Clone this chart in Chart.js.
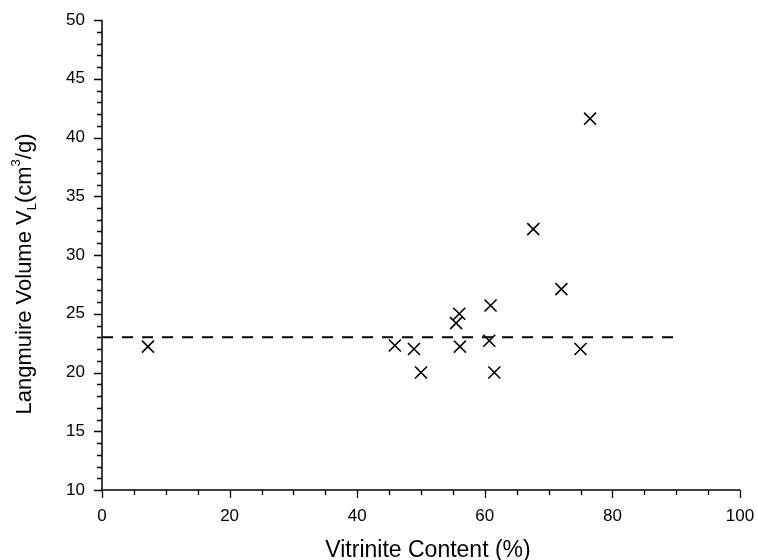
<!DOCTYPE html>
<html>
<head>
<meta charset="utf-8">
<script src="https://cdn.jsdelivr.net/npm/chart.js@4.4.0/dist/chart.umd.min.js"></script>
<style>
html,body{margin:0;padding:0;background:#fff;}
#wrap{width:758px;height:560px;position:relative;}
</style>
</head>
<body>
<div id="wrap"><canvas id="c" width="758" height="560"></canvas></div>
<script>
// Data
const vitrinite = [7.2, 45.9, 48.9, 50.0, 55.5, 56.0, 56.1, 60.9, 60.7, 61.5, 67.6, 72.0, 75.0, 76.5];
const langmuirVolume = [22.2, 22.3, 22.0, 20.0, 24.2, 25.0, 22.2, 25.7, 22.7, 20.0, 32.2, 27.1, 22.0, 41.6];
const refLineX = [0, 90];
const refLineY = [23, 23];
const xTicks = [0, 20, 40, 60, 80, 100];
const yTicks = [10, 15, 20, 25, 30, 35, 40, 45, 50];
const xTitle = 'Vitrinite Content (%)';
const yTitleParts = ['Langmuire Volume V', 'L', '(cm', '3', '/g)'];

const FONT = '"Liberation Sans", Arial, sans-serif';

const axesPlugin = {
  id: 'axesPlugin',
  afterDraw(chart) {
    const ctx = chart.ctx;
    const xs = chart.scales.x, ys = chart.scales.y;
    const L = xs.getPixelForValue(0), R = xs.getPixelForValue(100);
    const T = ys.getPixelForValue(50), B = ys.getPixelForValue(10);
    ctx.save();
    ctx.strokeStyle = '#000';
    ctx.lineWidth = 1.5;
    ctx.beginPath();
    ctx.moveTo(L, T); ctx.lineTo(L, B); ctx.lineTo(R, B);
    ctx.stroke();
    ctx.lineWidth = 1.3;
    ctx.beginPath();
    for (let v = 0; v <= 100; v += 5) {
      const p = Math.round(xs.getPixelForValue(v)) + 0.5;
      const len = (v % 20 === 0) ? 8 : 5;
      ctx.moveTo(p, B); ctx.lineTo(p, B + len);
    }
    for (let v = 10; v <= 50; v += 1) {
      const p = Math.round(ys.getPixelForValue(v)) + 0.5;
      const len = (v % 5 === 0) ? 8 : 5;
      ctx.moveTo(L, p); ctx.lineTo(L - len, p);
    }
    ctx.stroke();

    // x title
    ctx.fillStyle = '#000';
    ctx.font = '23px ' + FONT;
    ctx.textAlign = 'center';
    ctx.textBaseline = 'alphabetic';
    ctx.fillText(xTitle, (L + R) / 2 + 7, 557);

    // y title with sub/superscript
    const parts = [
      {t: yTitleParts[0], s: 22, dy: 0},
      {t: yTitleParts[1], s: 13, dy: 5},
      {t: yTitleParts[2], s: 22, dy: 0},
      {t: yTitleParts[3], s: 13, dy: -11},
      {t: yTitleParts[4], s: 22, dy: 0}
    ];
    let total = 0;
    parts.forEach(p => { ctx.font = p.s + 'px ' + FONT; p.w = ctx.measureText(p.t).width; total += p.w; });
    ctx.translate(31, 274);
    ctx.rotate(-Math.PI / 2);
    ctx.textAlign = 'left';
    let x = -total / 2;
    parts.forEach(p => {
      ctx.font = p.s + 'px ' + FONT;
      ctx.fillText(p.t, x, p.dy);
      x += p.w;
    });
    ctx.restore();
  }
};

new Chart(document.getElementById('c'), {
  type: 'scatter',
  data: {
    datasets: [
      {
        data: vitrinite.map((v, i) => ({x: v, y: langmuirVolume[i]})),
        pointStyle: 'crossRot',
        pointRadius: 8.5,
        pointBorderColor: '#000',
        pointBorderWidth: 1.6,
        pointBackgroundColor: '#000',
        showLine: false
      },
      {
        data: refLineX.map((v, i) => ({x: v, y: refLineY[i]})),
        showLine: true,
        borderColor: '#000',
        borderWidth: 2,
        borderDash: [11, 9],
        pointRadius: 0
      }
    ]
  },
  options: {
    responsive: false,
    animation: false,
    events: [],
    layout: {padding: {left: 0, right: 18, top: 20, bottom: 0}},
    plugins: {legend: {display: false}, tooltip: {enabled: false}},
    scales: {
      x: {
        type: 'linear', min: 0, max: 100,
        afterFit(s) { s.height = 70; s.paddingRight = 0; s.paddingLeft = 0; },
        afterBuildTicks(s) { s.ticks = xTicks.map(v => ({value: v})); },
        grid: {display: true, drawOnChartArea: false, drawTicks: true, tickLength: 6, color: 'rgba(0,0,0,0)'},
        border: {display: false},
        ticks: {color: '#000', font: {family: FONT, size: 17}, padding: 10, maxRotation: 0}
      },
      y: {
        type: 'linear', min: 10, max: 50,
        afterFit(s) { s.width = 102; s.paddingTop = 0; s.paddingBottom = 0; },
        afterBuildTicks(s) { s.ticks = yTicks.map(v => ({value: v})); },
        grid: {display: true, drawOnChartArea: false, drawTicks: true, tickLength: 6, color: 'rgba(0,0,0,0)'},
        border: {display: false},
        ticks: {color: '#000', font: {family: FONT, size: 17}, padding: 11}
      }
    }
  },
  plugins: [axesPlugin]
});
</script>
</body>
</html>
